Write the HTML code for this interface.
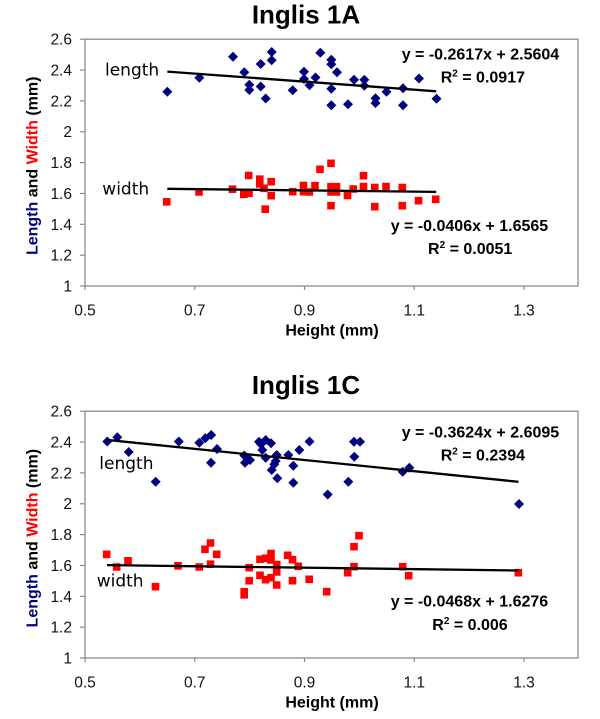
<!DOCTYPE html>
<html>
<head>
<meta charset="utf-8">
<style>
html,body{margin:0;padding:0;background:#fff;}
svg{display:block;}
text{font-family:"Liberation Sans",Arial,sans-serif;}
.t{font-size:15.5px;fill:#111;}
.b{font-weight:bold;}
.lab{font-family:"DejaVu Sans","Liberation Sans",sans-serif;font-size:17px;fill:#000;}
</style>
</head>
<body>
<svg width="600" height="719" viewBox="0 0 600 719" xmlns="http://www.w3.org/2000/svg">
<rect width="600" height="719" fill="#fff"/>

<!-- ================= CHART 1 ================= -->
<text x="306" y="23.5" text-anchor="middle" class="b" font-size="26">Inglis 1A</text>
<rect x="85" y="39.2" width="493" height="246.8" fill="#fff" stroke="#8a8a8a" stroke-width="1.3"/>
<g stroke="#8a8a8a" stroke-width="1.2">
<line x1="80" y1="286" x2="85" y2="286"/><line x1="80" y1="255.15" x2="85" y2="255.15"/><line x1="80" y1="224.3" x2="85" y2="224.3"/><line x1="80" y1="193.45" x2="85" y2="193.45"/><line x1="80" y1="162.6" x2="85" y2="162.6"/><line x1="80" y1="131.75" x2="85" y2="131.75"/><line x1="80" y1="100.9" x2="85" y2="100.9"/><line x1="80" y1="70.05" x2="85" y2="70.05"/><line x1="80" y1="39.2" x2="85" y2="39.2"/>
<line x1="85" y1="286" x2="85" y2="290"/><line x1="194.75" y1="286" x2="194.75" y2="290"/><line x1="304.5" y1="286" x2="304.5" y2="290"/><line x1="414.25" y1="286" x2="414.25" y2="290"/><line x1="524" y1="286" x2="524" y2="290"/>
</g>
<g class="t" text-anchor="end">
<text x="72" y="291.5">1</text><text x="72" y="260.7">1.2</text><text x="72" y="229.8">1.4</text><text x="72" y="199">1.6</text><text x="72" y="168.1">1.8</text><text x="72" y="137.2">2</text><text x="72" y="106.4">2.2</text><text x="72" y="75.5">2.4</text><text x="72" y="44.7">2.6</text>
</g>
<g class="t" text-anchor="middle">
<text x="85" y="315.5">0.5</text><text x="194.75" y="315.5">0.7</text><text x="304.5" y="315.5">0.9</text><text x="414.25" y="315.5">1.1</text><text x="524" y="315.5">1.3</text>
</g>
<text x="332" y="335.5" text-anchor="middle" class="b" font-size="16">Height (mm)</text>
<text transform="translate(37.5,165.8) rotate(-90)" text-anchor="middle" class="b" font-size="16"><tspan fill="#000080">Length</tspan> and <tspan fill="#ff0000">Width</tspan> (mm)</text>

<path fill="#000080" d="M167.3 86.7l5 5l-5 5l-5-5z M199.3 72.7l5 5l-5 5l-5-5z M233 51.7l5 5l-5 5l-5-5z M244.3 67.3l5 5l-5 5l-5-5z M249.3 79.7l5 5l-5 5l-5-5z M249.3 85l5 5l-5 5l-5-5z M260.7 59l5 5l-5 5l-5-5z M260.7 81.5l5 5l-5 5l-5-5z M265.7 93.5l5 5l-5 5l-5-5z M271.7 47l5 5l-5 5l-5-5z M271.7 55.3l5 5l-5 5l-5-5z M292.7 85.2l5 5l-5 5l-5-5z M304 66.7l5 5l-5 5l-5-5z M304 74l5 5l-5 5l-5-5z M309.5 80.3l5 5l-5 5l-5-5z M315.5 72.5l5 5l-5 5l-5-5z M320.3 47.7l5 5l-5 5l-5-5z M331.3 54.7l5 5l-5 5l-5-5z M331.3 59.2l5 5l-5 5l-5-5z M337 67.3l5 5l-5 5l-5-5z M331.3 83.7l5 5l-5 5l-5-5z M331.3 100.2l5 5l-5 5l-5-5z M348 99.2l5 5l-5 5l-5-5z M354 74.7l5 5l-5 5l-5-5z M364.3 74.7l5 5l-5 5l-5-5z M364.3 80.8l5 5l-5 5l-5-5z M375.5 93.3l5 5l-5 5l-5-5z M375.5 98l5 5l-5 5l-5-5z M386.5 86.7l5 5l-5 5l-5-5z M403 83.3l5 5l-5 5l-5-5z M403 100.2l5 5l-5 5l-5-5z M419 73.5l5 5l-5 5l-5-5z M436.5 93.7l5 5l-5 5l-5-5z"/>

<path fill="#ff0000" d="M162.9 198h7.6v7.6h-7.6z M195.2 188.2h7.6v7.6h-7.6z M228.7 185.4h7.6v7.6h-7.6z M240 190.5h7.6v7.6h-7.6z M245.2 189.4h7.6v7.6h-7.6z M244.9 171.7h7.6v7.6h-7.6z M256 175.4h7.6v7.6h-7.6z M256 180.2h7.6v7.6h-7.6z M260.2 184.5h7.6v7.6h-7.6z M267.4 177.9h7.6v7.6h-7.6z M267.4 191.9h7.6v7.6h-7.6z M261.4 205.4h7.6v7.6h-7.6z M288.9 187.9h7.6v7.6h-7.6z M299.7 181.7h7.6v7.6h-7.6z M299.7 187.9h7.6v7.6h-7.6z M305.5 188.2h7.6v7.6h-7.6z M311.2 181.9h7.6v7.6h-7.6z M316.2 165.5h7.6v7.6h-7.6z M327.2 159.5h7.6v7.6h-7.6z M327.2 182.9h7.6v7.6h-7.6z M327.2 188.2h7.6v7.6h-7.6z M332.7 182.9h7.6v7.6h-7.6z M332.7 188.2h7.6v7.6h-7.6z M327.2 201.9h7.6v7.6h-7.6z M343.7 191.7h7.6v7.6h-7.6z M349.5 185.2h7.6v7.6h-7.6z M359.7 171.9h7.6v7.6h-7.6z M359.7 182.7h7.6v7.6h-7.6z M371 183.7h7.6v7.6h-7.6z M371 202.9h7.6v7.6h-7.6z M382.2 182.7h7.6v7.6h-7.6z M398.5 183.7h7.6v7.6h-7.6z M398.5 201.9h7.6v7.6h-7.6z M414.7 196.9h7.6v7.6h-7.6z M431.9 195.5h7.6v7.6h-7.6z"/>

<line x1="167.3" y1="71.6" x2="436.2" y2="91.3" stroke="#000" stroke-width="2.3"/>
<line x1="167.3" y1="188.8" x2="436.2" y2="191.9" stroke="#000" stroke-width="2.3"/>

<text x="105" y="75.7" class="lab">length</text>
<text x="102.3" y="194.3" class="lab">width</text>

<g class="b" font-size="16">
<text x="401.7" y="59.3">y = -0.2617x + 2.5604</text>
<text x="440.7" y="82.7">R<tspan font-size="10" dy="-6">2</tspan><tspan dy="6"> = 0.0917</tspan></text>
<text x="390.7" y="231">y = -0.0406x + 1.6565</text>
<text x="428" y="254">R<tspan font-size="10" dy="-6">2</tspan><tspan dy="6"> = 0.0051</tspan></text>
</g>

<!-- ================= CHART 2 ================= -->
<text x="306" y="394" text-anchor="middle" class="b" font-size="26">Inglis 1C</text>
<rect x="85" y="411.2" width="493" height="246.8" fill="#fff" stroke="#8a8a8a" stroke-width="1.3"/>
<g stroke="#8a8a8a" stroke-width="1.2">
<line x1="80" y1="658" x2="85" y2="658"/><line x1="80" y1="627.15" x2="85" y2="627.15"/><line x1="80" y1="596.3" x2="85" y2="596.3"/><line x1="80" y1="565.45" x2="85" y2="565.45"/><line x1="80" y1="534.6" x2="85" y2="534.6"/><line x1="80" y1="503.75" x2="85" y2="503.75"/><line x1="80" y1="472.9" x2="85" y2="472.9"/><line x1="80" y1="442.05" x2="85" y2="442.05"/><line x1="80" y1="411.2" x2="85" y2="411.2"/>
<line x1="85" y1="658" x2="85" y2="662"/><line x1="194.75" y1="658" x2="194.75" y2="662"/><line x1="304.5" y1="658" x2="304.5" y2="662"/><line x1="414.25" y1="658" x2="414.25" y2="662"/><line x1="524" y1="658" x2="524" y2="662"/>
</g>
<g class="t" text-anchor="end">
<text x="72" y="663.5">1</text><text x="72" y="632.7">1.2</text><text x="72" y="601.8">1.4</text><text x="72" y="571">1.6</text><text x="72" y="540.1">1.8</text><text x="72" y="509.2">2</text><text x="72" y="478.4">2.2</text><text x="72" y="447.5">2.4</text><text x="72" y="416.7">2.6</text>
</g>
<g class="t" text-anchor="middle">
<text x="85" y="687.5">0.5</text><text x="194.75" y="687.5">0.7</text><text x="304.5" y="687.5">0.9</text><text x="414.25" y="687.5">1.1</text><text x="524" y="687.5">1.3</text>
</g>
<text x="332" y="707.5" text-anchor="middle" class="b" font-size="16">Height (mm)</text>
<text transform="translate(37.5,538.2) rotate(-90)" text-anchor="middle" class="b" font-size="16"><tspan fill="#000080">Length</tspan> and <tspan fill="#ff0000">Width</tspan> (mm)</text>

<path fill="#000080" d="M107.3 436.5l5 5l-5 5l-5-5z M117.3 432.3l5 5l-5 5l-5-5z M128.7 447l5 5l-5 5l-5-5z M155.7 476.7l5 5l-5 5l-5-5z M178.8 436.5l5 5l-5 5l-5-5z M199.3 437.7l5 5l-5 5l-5-5z M205.3 433.3l5 5l-5 5l-5-5z M211.2 430l5 5l-5 5l-5-5z M211 457.7l5 5l-5 5l-5-5z M217 444l5 5l-5 5l-5-5z M244.3 450.5l5 5l-5 5l-5-5z M245 457.7l5 5l-5 5l-5-5z M247.7 454.3l5 5l-5 5l-5-5z M250 455l5 5l-5 5l-5-5z M259 436.7l5 5l-5 5l-5-5z M261 439.3l5 5l-5 5l-5-5z M265.7 435l5 5l-5 5l-5-5z M271 438.3l5 5l-5 5l-5-5z M262.3 445l5 5l-5 5l-5-5z M265.7 452.7l5 5l-5 5l-5-5z M276.7 450l5 5l-5 5l-5-5z M275.7 456l5 5l-5 5l-5-5z M274.3 459.3l5 5l-5 5l-5-5z M271.7 465l5 5l-5 5l-5-5z M277.3 473.3l5 5l-5 5l-5-5z M288.3 450l5 5l-5 5l-5-5z M293.3 460.7l5 5l-5 5l-5-5z M293.3 477.7l5 5l-5 5l-5-5z M299.3 445l5 5l-5 5l-5-5z M309.5 436.5l5 5l-5 5l-5-5z M327.7 489.5l5 5l-5 5l-5-5z M348.3 476.7l5 5l-5 5l-5-5z M354 436.7l5 5l-5 5l-5-5z M360 436.7l5 5l-5 5l-5-5z M354.3 451.7l5 5l-5 5l-5-5z M402.7 466.7l5 5l-5 5l-5-5z M409.3 462.7l5 5l-5 5l-5-5z M519 499l5 5l-5 5l-5-5z"/>

<path fill="#ff0000" d="M102.9 550.5h7.6v7.6h-7.6z M112.9 563.2h7.6v7.6h-7.6z M124.2 557h7.6v7.6h-7.6z M151.7 582.9h7.6v7.6h-7.6z M174.2 562h7.6v7.6h-7.6z M195.4 563.2h7.6v7.6h-7.6z M201.2 545.5h7.6v7.6h-7.6z M206.7 539.2h7.6v7.6h-7.6z M206.7 560.4h7.6v7.6h-7.6z M212.9 550.5h7.6v7.6h-7.6z M240.4 587.9h7.6v7.6h-7.6z M240.4 591h7.6v7.6h-7.6z M245.4 563.9h7.6v7.6h-7.6z M245.4 576.9h7.6v7.6h-7.6z M256.2 555.5h7.6v7.6h-7.6z M256.2 571.5h7.6v7.6h-7.6z M261.9 554.5h7.6v7.6h-7.6z M261.9 575.9h7.6v7.6h-7.6z M267.2 549.7h7.6v7.6h-7.6z M267.2 556.2h7.6v7.6h-7.6z M267.2 573.9h7.6v7.6h-7.6z M272.9 560.7h7.6v7.6h-7.6z M272.9 568.2h7.6v7.6h-7.6z M272.9 581.2h7.6v7.6h-7.6z M283.9 551.5h7.6v7.6h-7.6z M288.7 555.9h7.6v7.6h-7.6z M288.7 576.9h7.6v7.6h-7.6z M294.5 562.5h7.6v7.6h-7.6z M305.4 575.5h7.6v7.6h-7.6z M322.9 587.9h7.6v7.6h-7.6z M343.9 568.9h7.6v7.6h-7.6z M350.2 562.9h7.6v7.6h-7.6z M350.2 542.9h7.6v7.6h-7.6z M355.2 531.9h7.6v7.6h-7.6z M398.9 562.9h7.6v7.6h-7.6z M404.9 571.9h7.6v7.6h-7.6z M514.5 568.9h7.6v7.6h-7.6z"/>

<line x1="107" y1="439.9" x2="518.5" y2="481.8" stroke="#000" stroke-width="2.3"/>
<line x1="107" y1="565.1" x2="518.5" y2="570.5" stroke="#000" stroke-width="2.3"/>

<text x="99.3" y="469" class="lab">length</text>
<text x="96.7" y="586.7" class="lab">width</text>

<g class="b" font-size="16">
<text x="401.7" y="437.3">y = -0.3624x + 2.6095</text>
<text x="440.7" y="460.7">R<tspan font-size="10" dy="-6">2</tspan><tspan dy="6"> = 0.2394</tspan></text>
<text x="390.7" y="606.7">y = -0.0468x + 1.6276</text>
<text x="432.3" y="630">R<tspan font-size="10" dy="-6">2</tspan><tspan dy="6"> = 0.006</tspan></text>
</g>
</svg>
</body>
</html>
